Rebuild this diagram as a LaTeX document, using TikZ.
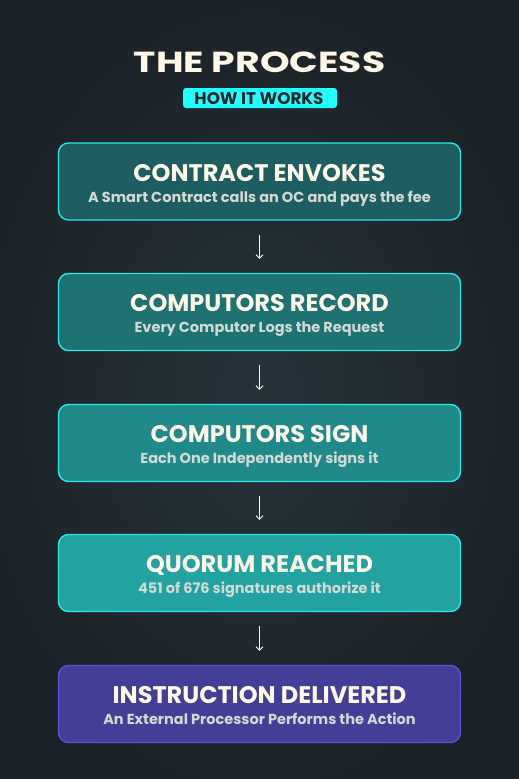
\documentclass[tikz,border=0pt]{standalone}
\usepackage{fontspec}
\setmainfont{Poppins}
\newfontfamily\titlefont{Poppins}[FakeStretch=1.3]
\usetikzlibrary{arrows.meta}
\definecolor{bgA}{HTML}{1B2227}
\definecolor{bgB}{HTML}{26323A}
\definecolor{cream}{HTML}{FFF8E8}
\definecolor{subc}{HTML}{D2DAD4}
\definecolor{cyanb}{HTML}{2EE6E3}
\definecolor{badge}{HTML}{22FFFF}
\definecolor{darkt}{HTML}{1B2327}
\definecolor{fA}{HTML}{1E5E60}
\definecolor{fB}{HTML}{1E7272}
\definecolor{fC}{HTML}{1F8A89}
\definecolor{fD}{HTML}{22A2A1}
\definecolor{fE}{HTML}{443F96}
\definecolor{bE}{HTML}{5A52D2}
\tikzset{
  stepbox/.style={draw=cyanb, line width=1.4pt, rounded corners=10pt,
    minimum width=402pt, minimum height=77pt, inner sep=0pt},
  headtxt/.style={anchor=base, text=cream, font=\bfseries\fontsize{24}{26}\selectfont, inner sep=0pt},
  subtxt/.style={anchor=base, text=subc, font=\bfseries\fontsize{14.5}{16}\selectfont, inner sep=0pt},
  flow/.style={draw=cream, line width=0.8pt, -{Straight Barb[length=3.5pt,width=7pt,line width=0.8pt]}},
}
\begin{document}
\begin{tikzpicture}[x=1pt,y=-1pt]
\useasboundingbox (0,0) rectangle (519,779);
\fill[bgA] (0,0) rectangle (519,779);
\shade[inner color=bgB, outer color=bgA] (259.5,400) ellipse [x radius=300pt, y radius=420pt];
% title
\node[anchor=base, text=cream, font=\titlefont\bfseries\fontsize{29}{31}\selectfont, inner sep=0pt] (title) at (259.5,72) {THE PROCESS};
\node[fill=badge, rounded corners=3pt, minimum width=154pt, minimum height=20pt, inner sep=0pt] (badge) at (260,98) {};
\node[anchor=base, text=darkt, font=\bfseries\fontsize{16.8}{18}\selectfont, inner sep=0pt] (badgetxt) at (259,104) {HOW IT WORKS};
% boxes
\node[stepbox, fill=fA] (b1) at (259.5,181.5) {};
\node[stepbox, fill=fB] (b2) at (259.5,312) {};
\node[stepbox, fill=fC] (b3) at (259.5,443) {};
\node[stepbox, fill=fD] (b4) at (259.5,573) {};
\node[stepbox, fill=fE, draw=bE] (b5) at (259.5,704) {};
% texts
\node[headtxt] (h1) at (259.5,181) {CONTRACT ENVOKES};
\node[subtxt] (s1) at (259.5,202) {A Smart Contract calls an OC and pays the fee};
\node[headtxt] (h2) at (259.5,311.5) {COMPUTORS RECORD};
\node[subtxt] (s2) at (259.5,332.5) {Every Computor Logs the Request};
\node[headtxt] (h3) at (259.5,442.5) {COMPUTORS SIGN};
\node[subtxt] (s3) at (259.5,463.5) {Each One Independently signs it};
\node[headtxt] (h4) at (259.5,572.5) {QUORUM REACHED};
\node[subtxt] (s4) at (259.5,593.5) {451 of 676 signatures authorize it};
\node[headtxt] (h5) at (259.5,703.5) {INSTRUCTION DELIVERED};
\node[subtxt] (s5) at (259.5,724.5) {An External Processor Performs the Action};
% arrows
\draw[flow] ([yshift=-14pt]b1.south) -- ([yshift=14pt]b2.north);
\draw[flow] ([yshift=-14pt]b2.south) -- ([yshift=14pt]b3.north);
\draw[flow] ([yshift=-14pt]b3.south) -- ([yshift=14pt]b4.north);
\draw[flow] ([yshift=-14pt]b4.south) -- ([yshift=14pt]b5.north);
\end{tikzpicture}
\end{document}
